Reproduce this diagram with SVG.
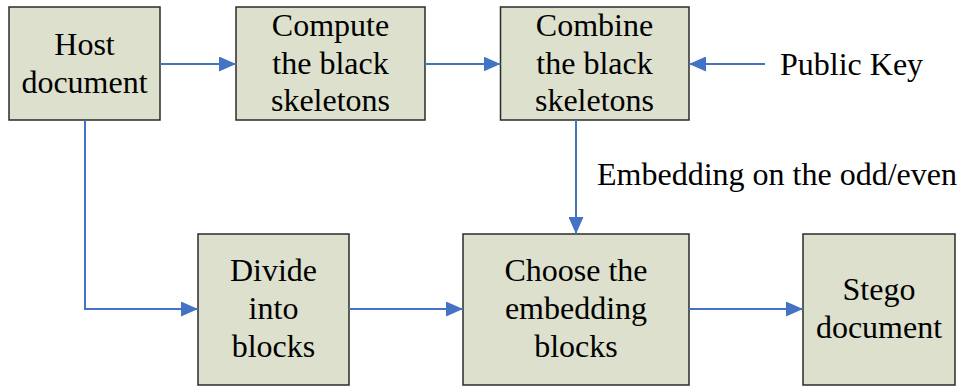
<svg xmlns="http://www.w3.org/2000/svg" width="962" height="388" viewBox="0 0 962 388">
<style>
.box{fill:#DDE0CC;stroke:#2b2b2b;stroke-width:1.5}
.t{font-family:"Liberation Serif","Times New Roman",serif;font-size:32px;fill:#000;text-anchor:middle}
.lbl{font-family:"Liberation Serif","Times New Roman",serif;font-size:32px;fill:#000}
.c{fill:none;stroke:#4472C4;stroke-width:2;marker-end:url(#ah)}
</style>
<defs>
<marker id="ah" markerUnits="userSpaceOnUse" markerWidth="17" markerHeight="15" refX="17" refY="7.5" orient="auto">
<path d="M0,0 L17,7.5 L0,15 z" fill="#4472C4"/>
</marker>
</defs>
<rect width="962" height="388" fill="#fff"/>
<g id="host">
<rect class="box" x="9" y="7" width="151" height="113"/>
<text class="t" x="84.5" y="55">Host</text>
<text class="t" x="84.5" y="92.5">document</text>
</g>
<g id="compute">
<rect class="box" x="236" y="7" width="189" height="113"/>
<text class="t" x="330.5" y="36">Compute</text>
<text class="t" x="330.5" y="73.5">the black</text>
<text class="t" x="330.5" y="111">skeletons</text>
</g>
<g id="combine">
<rect class="box" x="500.5" y="7" width="188.5" height="113"/>
<text class="t" x="594.5" y="36">Combine</text>
<text class="t" x="594.5" y="73.5">the black</text>
<text class="t" x="594.5" y="111">skeletons</text>
</g>
<g id="publickey">
<text class="lbl" x="780" y="75">Public Key</text>
</g>
<g id="divide">
<rect class="box" x="198" y="234" width="151" height="151"/>
<text class="t" x="273.5" y="281">Divide</text>
<text class="t" x="273.5" y="318.5">into</text>
<text class="t" x="273.5" y="356.5">blocks</text>
</g>
<g id="choose">
<rect class="box" x="463" y="234" width="226" height="151"/>
<text class="t" x="576" y="281">Choose the</text>
<text class="t" x="576" y="318.5">embedding</text>
<text class="t" x="576" y="356.5">blocks</text>
</g>
<g id="stego">
<rect class="box" x="803" y="234" width="152" height="151"/>
<text class="t" x="879" y="300">Stego</text>
<text class="t" x="879" y="338">document</text>
</g>
<g id="connectors">
<path class="c" d="M160,64 H236"/>
<path class="c" d="M425,64 H500.5"/>
<path class="c" d="M765,64 H689"/>
<path class="c" d="M85,120 V309 H198"/>
<path class="c" d="M576,120 V234"/>
<path class="c" d="M349,309 H463"/>
<path class="c" d="M689,309 H803"/>
<text class="lbl" x="597" y="185">Embedding on the odd/even</text>
</g>
</svg>
